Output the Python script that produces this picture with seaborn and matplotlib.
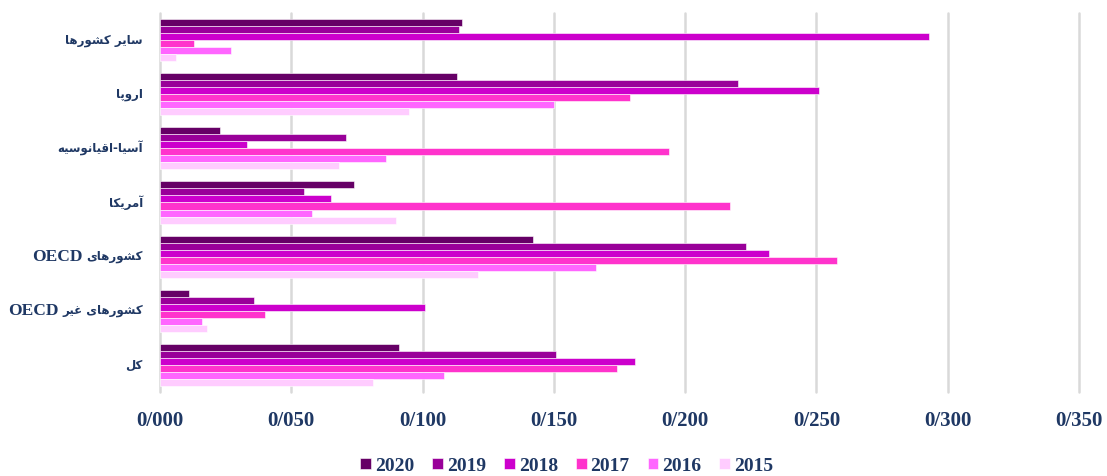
import re

import matplotlib
matplotlib.use("Agg")
import matplotlib.pyplot as plt
from matplotlib.ticker import FuncFormatter, MultipleLocator
import seaborn as sns
import pandas as pd

# ---- Data ----
regions = ["سایر کشورها", "اروپا", "آسیا-اقیانوسیه", "آمریکا",
           "کشورهای OECD", "کشورهای غیر OECD", "کل"]
years = ["2020", "2019", "2018", "2017", "2016", "2015"]

v2020 = [0.115, 0.113, 0.023, 0.074, 0.142, 0.011, 0.091]
v2019 = [0.114, 0.220, 0.071, 0.055, 0.223, 0.036, 0.151]
v2018 = [0.293, 0.251, 0.033, 0.065, 0.232, 0.101, 0.181]
v2017 = [0.013, 0.179, 0.194, 0.217, 0.258, 0.040, 0.174]
v2016 = [0.027, 0.150, 0.086, 0.058, 0.166, 0.016, 0.108]
v2015 = [0.006, 0.095, 0.068, 0.090, 0.121, 0.018, 0.081]

colors = ["#660066", "#990099", "#CC00CC", "#FF33CC", "#FF66FF", "#FFCCFF"]
TEXT = "#1F3864"

# ---- Minimal Persian shaping + RTL ordering (matplotlib has no shaping) ----
FORMS = {
    "ا": ("\uFE8D", "\uFE8E", None, None),
    "آ": ("\uFE81", "\uFE82", None, None),
    "ر": ("\uFEAD", "\uFEAE", None, None),
    "و": ("\uFEED", "\uFEEE", None, None),
    "س": ("\uFEB1", "\uFEB2", "\uFEB3", "\uFEB4"),
    "ش": ("\uFEB5", "\uFEB6", "\uFEB7", "\uFEB8"),
    "ق": ("\uFED5", "\uFED6", "\uFED7", "\uFED8"),
    "ن": ("\uFEE5", "\uFEE6", "\uFEE7", "\uFEE8"),
    "م": ("\uFEE1", "\uFEE2", "\uFEE3", "\uFEE4"),
    "ل": ("\uFEDD", "\uFEDE", "\uFEDF", "\uFEE0"),
    "غ": ("\uFECD", "\uFECE", "\uFECF", "\uFED0"),
    "ه": ("\uFEE9", "\uFEEA", "\uFEEB", "\uFEEC"),
    "ی": ("\uFBFC", "\uFBFD", "\uFBFE", "\uFBFF"),
    "ک": ("\uFB8E", "\uFB8F", "\uFB90", "\uFB91"),
    "پ": ("\uFB56", "\uFB57", "\uFB58", "\uFB59"),
}
DUAL = {c for c, f in FORMS.items() if f[2] is not None}


def shape(s):
    out = []
    for i, c in enumerate(s):
        if c not in FORMS:
            out.append(c)
            continue
        prev_j = i > 0 and s[i - 1] in DUAL
        next_j = c in DUAL and i + 1 < len(s) and s[i + 1] in FORMS
        isol, fina, init, medi = FORMS[c]
        if prev_j and next_j:
            out.append(medi)
        elif prev_j:
            out.append(fina)
        elif next_j:
            out.append(init)
        else:
            out.append(isol)
    return "".join(out)


def rtl(s):
    return shape(s)[::-1]


# ---- Long-form table ----
df = pd.DataFrame({
    "region": regions * len(years),
    "year": [y for y in years for _ in regions],
    "value": v2020 + v2019 + v2018 + v2017 + v2016 + v2015,
})

sns.set_theme(style="white")
plt.rcParams["font.family"] = ["Liberation Serif", "DejaVu Sans"]

fig = plt.figure(figsize=(11.07, 4.76), dpi=100)
ax = fig.add_axes([0.1445, 0.1765, 0.8302, 0.7962])

sns.barplot(data=df, x="value", y="region", hue="year", order=regions,
            hue_order=years, palette=colors, saturation=1, orient="h",
            width=0.78, edgecolor="white", linewidth=0.4, ax=ax, zorder=3)

ax.set_xlim(0, 0.35)
ax.xaxis.set_major_locator(MultipleLocator(0.05))
ax.xaxis.set_major_formatter(FuncFormatter(lambda v, _: f"{v:.3f}".replace(".", "/")))
ax.grid(axis="x", color="#D9D9D9", linewidth=1.8, zorder=0)
for gl in ax.get_xgridlines():
    gl.set_clip_on(False)
for sp in ax.spines.values():
    sp.set_visible(False)

ax.set_xlabel("")
ax.set_ylabel("")
ax.tick_params(axis="x", length=0, pad=14, labelsize=15, labelcolor=TEXT)
ax.tick_params(axis="y", length=0)
for lbl in ax.get_xticklabels():
    lbl.set_fontweight("bold")

# y labels: Persian part in DejaVu Sans, "OECD" in a serif to its left
ax.set_yticks(range(len(regions)))
ax.set_yticklabels([])
for i, name in enumerate(regions):
    persian = name.replace("OECD", "").strip()
    fa = ax.annotate(rtl(persian), xy=(0, i), xycoords=ax.get_yaxis_transform(),
                     xytext=(-17, 0), textcoords="offset pixels", ha="right",
                     va="center", family="DejaVu Sans", fontsize=8.5,
                     fontweight="bold", color=TEXT)
    if "OECD" in name:
        ax.annotate("OECD", xy=(0, 0.5), xycoords=fa, xytext=(-4, 0),
                    textcoords="offset pixels", ha="right", va="center",
                    family="Liberation Serif", fontsize=12.5,
                    fontweight="bold", color=TEXT)

handles, labels = ax.get_legend_handles_labels()
ax.get_legend().remove()
fig.legend(handles, labels, loc="center", bbox_to_anchor=(0.512, 0.021),
           ncol=6, frameon=False, handlelength=0.55, handleheight=0.55,
           handletextpad=0.2, columnspacing=0.93,
           prop={"size": 14, "weight": "bold"}, labelcolor=TEXT)

fig.savefig("out.png", dpi=100)
plt.close(fig)
